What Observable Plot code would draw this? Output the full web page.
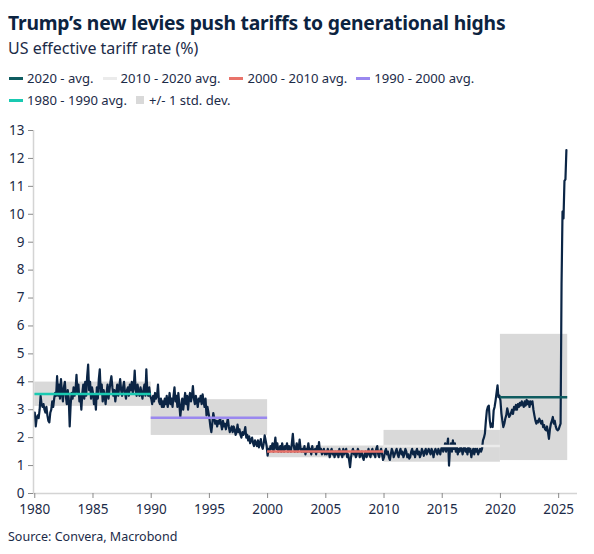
<!DOCTYPE html>
<html>
<head>
<meta charset="utf-8">
<script src="https://cdn.jsdelivr.net/npm/d3@7"></script>
<script src="https://cdn.jsdelivr.net/npm/@observablehq/plot@0.6"></script>
<style>
  html, body { margin: 0; padding: 0; background: #fff; }
  body { width: 594px; height: 554px; position: relative; font-family: "Noto Sans", "Open Sans", sans-serif; color: #1c2b48; overflow: hidden; }
  #title { position: absolute; left: 8px; top: 9px; font-size: 19.3px; font-weight: 700; color: #0c2340; white-space: nowrap; letter-spacing: -0.2px; }
  #subtitle { position: absolute; left: 8px; top: 37px; font-size: 16px; color: #1c2b48; white-space: nowrap; }
  .legrow { position: absolute; left: 9px; display: flex; align-items: center; font-size: 13.1px; white-space: nowrap; }
  .item { display: flex; align-items: center; margin-right: 9px; }
  .sw { display: inline-block; width: 14px; height: 3px; margin-right: 4px; }
  .sq { display: inline-block; width: 8px; height: 8px; margin-right: 5px; }
  #chart { position: absolute; left: 0; top: 115px; }
  #source { position: absolute; left: 8px; top: 528px; font-size: 12.5px; color: #1c2b48; }
</style>
</head>
<body>
<div id="title">Trump’s new levies push tariffs to generational highs</div>
<div id="subtitle">US effective tariff rate (%)</div>
<div class="legrow" id="leg1" style="top:69px"></div>
<div class="legrow" id="leg2" style="top:91px"></div>
<div id="chart"></div>
<div id="source">Source: Convera, Macrobond</div>
<script>
// ---- Data ----
const startYear = 1980;
// monthly US effective tariff rate (%), Jan 1980 onward
const rate = [
  2.9, 2.4, 2.7, 2.8, 2.7, 3.0, 3.5, 3.2, 3.1, 3.2, 3.0, 2.9,
  3.1, 2.8, 2.6, 2.55, 2.9, 3.0, 3.3, 3.1, 3.4, 3.6, 3.5, 4.2,
  3.5, 3.9, 3.4, 4.1, 3.6, 3.3, 3.8, 4.0, 3.5, 3.2, 3.7, 3.4,
  2.4, 3.2, 3.6, 3.4, 3.8, 3.5, 3.7, 4.25, 3.6, 3.9, 3.3, 3.5,
  3.0, 3.6, 3.9, 3.4, 4.0, 3.5, 4.2, 4.62, 3.7, 4.0, 3.4, 3.8,
  3.6, 3.2, 3.5, 3.0, 3.8, 3.4, 4.1, 4.45, 3.6, 3.9, 3.3, 3.7,
  3.5, 3.2, 3.6, 3.9, 3.4, 3.7, 4.0, 4.2, 3.8, 3.5, 3.7, 3.3,
  3.6, 3.9, 3.5, 3.8, 4.1, 3.7, 3.5, 3.8, 4.0, 3.6, 3.4, 3.7,
  3.8, 3.5, 3.9, 3.7, 4.0, 3.6, 3.8, 4.4, 3.7, 3.5, 3.9, 3.6,
  3.5, 3.8, 3.6, 3.4, 3.7, 3.9, 3.5, 4.45, 3.6, 3.5, 3.8, 3.5,
  3.4, 3.2, 3.5, 3.3, 3.6, 3.4, 3.5, 3.9, 3.3, 3.2, 3.4, 3.1,
  3.3, 3.1, 3.4, 3.2, 3.5, 3.1, 3.3, 3.6, 3.2, 3.4, 3.1, 3.5,
  3.8, 3.3, 3.5, 3.1, 3.6, 3.2, 2.75, 3.1, 3.4, 3.0, 3.3, 3.6,
  3.2, 3.5, 3.0, 3.4, 3.6, 3.3, 3.5, 3.85, 3.4, 3.2, 3.5, 3.3,
  3.1, 3.4, 3.3, 3.5, 3.2, 3.55, 3.3, 3.1, 3.4, 2.8, 3.1, 2.9,
  2.7, 2.4, 2.2, 2.5, 2.88, 2.7, 2.5, 2.6, 2.4, 2.6, 2.5, 2.7,
  2.5, 2.3, 2.6, 2.4, 2.5, 2.3, 2.5, 2.69, 2.4, 2.2, 2.3, 2.4,
  2.2, 2.4, 2.3, 2.1, 2.2, 2.47, 2.2, 2.3, 2.1, 2.0, 2.2, 2.1,
  2.2, 2.38, 2.0, 2.1, 1.9, 2.05, 1.8, 1.9, 2.0, 1.8, 1.7, 1.9,
  1.8, 1.7, 1.9, 1.65, 1.8, 1.95, 1.7, 1.6, 1.8, 2.08, 1.9, 1.7,
  1.36, 1.6, 1.5, 1.7, 1.6, 1.8, 1.5, 1.7, 2.0, 1.6, 1.8, 1.5,
  1.6, 1.7, 1.5, 1.8, 1.6, 1.5, 1.7, 1.6, 1.8, 1.5, 1.7, 1.6,
  1.5, 1.8, 2.14, 1.7, 1.5, 1.6, 1.8, 1.5, 1.6, 1.93, 1.6, 1.5,
  1.6, 1.5, 1.7, 1.4, 1.6, 1.5, 1.8, 1.5, 1.6, 1.4, 1.7, 1.5,
  1.5, 1.6, 1.4, 1.7, 1.5, 1.84, 1.5, 1.6, 1.4, 1.5, 1.6, 1.4,
  1.5, 1.4, 1.6, 1.5, 1.3, 1.5, 1.6, 1.4, 1.5, 1.3, 1.5, 1.4,
  1.5, 1.3, 1.6, 1.4, 1.5, 1.3, 1.6, 1.4, 1.5, 1.6, 1.3, 1.4,
  1.2, 0.94, 1.3, 1.5, 1.6, 1.4, 1.5, 1.3, 1.4, 1.6, 1.5, 1.3,
  1.4, 1.5, 1.3, 1.2, 1.4, 1.5, 1.3, 1.4, 1.6, 1.4, 1.3, 1.5,
  1.6, 1.4, 1.5, 1.3, 1.6, 1.7, 1.4, 1.3, 1.5, 1.6, 1.4, 1.2,
  1.3, 1.5, 1.6, 1.4, 1.5, 1.3, 1.2, 1.4, 1.6, 1.5, 1.3, 1.4,
  1.5, 1.6, 1.4, 1.3, 1.5, 1.6, 1.4, 1.5, 1.3, 1.4, 1.6, 1.5,
  1.3, 1.4, 1.25, 1.3, 1.5, 1.6, 1.4, 1.5, 1.3, 1.5, 1.6, 1.4,
  1.5, 1.3, 1.4, 1.6, 1.5, 1.35, 1.5, 1.6, 1.4, 1.5, 1.6, 1.5,
  1.4, 1.6, 1.5, 1.3, 1.5, 1.6, 1.5, 1.4, 1.6, 1.5, 1.4, 1.6,
  1.7, 1.5, 1.6, 1.8, 1.5, 1.7, 1.97, 1.0, 1.6, 1.8, 1.5, 1.9,
  1.6, 1.8, 1.5, 1.7, 1.4, 1.6, 1.5, 1.7, 1.6, 1.4, 1.6, 1.7,
  1.5, 1.6, 1.4, 1.7, 1.5, 1.6, 1.3, 1.5, 1.6, 1.4, 1.6, 1.5,
  1.6, 1.4, 1.5, 1.6, 1.5, 1.6, 1.9, 2.0, 2.15, 2.6, 2.97, 3.1,
  3.15, 2.62, 2.38, 2.5, 2.38, 2.97, 3.1, 3.33, 3.6, 3.87, 3.45, 3.5,
  3.33, 2.87, 2.6, 2.38, 2.5, 2.68, 2.8, 3.05, 2.9, 2.74, 2.8, 2.9,
  3.0, 2.85, 3.1, 3.0, 3.17, 3.0, 3.2, 3.1, 3.25, 3.15, 3.3, 3.2,
  3.1, 3.3, 3.15, 3.35, 3.2, 3.3, 3.1, 3.3, 3.2, 3.3, 3.0, 2.8,
  2.62, 2.5, 2.6, 2.55, 2.68, 2.6, 2.5, 2.6, 2.38, 2.45, 2.3, 2.26,
  2.4, 2.2, 1.96, 2.3, 2.5, 2.6, 2.74, 2.5, 2.6, 2.4, 2.3, 2.26,
  2.3, 2.4, 2.5, 7.5, 10.1, 9.85, 11.2, 11.25, 12.3
];

// period averages and +/- 1 std. dev. bands
const periodLabels = ["1980 - 1990 avg.", "1990 - 2000 avg.", "2000 - 2010 avg.", "2010 - 2020 avg.", "2020 - avg."];
const periodStart = [1980, 1990, 2000, 2010, 2020];
const periodEnd   = [1990, 2000, 2010, 2020, 2025.78];
const periodAvg   = [3.56, 2.71, 1.50, 1.70, 3.45];
const bandLow     = [3.12, 2.08, 1.28, 1.12, 1.18];
const bandHigh    = [3.99, 3.36, 1.70, 2.26, 5.70];

const xTicks = [1980, 1985, 1990, 1995, 2000, 2005, 2010, 2015, 2020, 2025];
const yTicks = [0, 1, 2, 3, 4, 5, 6, 7, 8, 9, 10, 11, 12, 13];

// ---- Styles ----
const periodColors = ["#19c9b1", "#9a88ef", "#e9736a", "#ebebeb", "#0f5c60"];
const bandColor = "#d9d9d9";
const lineColor = "#0b2545";
const textColor = "#1c2b48";

// ---- Build ----
const series = rate.map((v, i) => ({t: startYear + i / 12, v}));
const periods = periodLabels.map((label, i) => ({
  label, x1: periodStart[i], x2: periodEnd[i], avg: periodAvg[i], lo: bandLow[i], hi: bandHigh[i]
}));

const xMin = 1979.89, xMax = 2026.62;

const chart = Plot.plot({
  width: 594,
  height: 410,
  marginTop: 15,
  marginBottom: 32,
  marginLeft: 33,
  marginRight: 17,
  style: {fontFamily: "'Noto Sans', sans-serif", background: "transparent"},
  x: {domain: [xMin, xMax]},
  y: {domain: [0, 13]},
  color: {domain: periodLabels, range: periodColors},
  marks: [
    Plot.rect(periods, {x1: "x1", x2: "x2", y1: "lo", y2: "hi", fill: bandColor}),
    Plot.line(series, {x: "t", y: "v", stroke: lineColor, strokeWidth: 2.2, strokeLinejoin: "round"}),
    Plot.ruleY(periods, {y: "avg", x1: "x1", x2: "x2", stroke: "label", strokeWidth: 2.5}),
    Plot.ruleX([xMin], {stroke: "#d4d4d4", strokeWidth: 1.5}),
    Plot.ruleY([0], {stroke: "#d4d4d4", strokeWidth: 1.5}),
    Plot.axisX({ticks: xTicks, tickFormat: d => String(d), tickSize: 5, tickPadding: 6, stroke: "#8a8a8a", fill: textColor, fontSize: 13.5, label: null}),
    Plot.axisY({ticks: yTicks, tickSize: 5, tickPadding: 4, stroke: "#8a8a8a", fill: textColor, fontSize: 13.5, label: null})
  ]
});
document.getElementById("chart").appendChild(chart);

// ---- Legend (HTML) ----
function item(label, color, square) {
  const d = document.createElement("div");
  d.className = "item";
  const s = document.createElement("span");
  s.className = square ? "sq" : "sw";
  s.style.background = color;
  const t = document.createElement("span");
  t.textContent = label;
  d.appendChild(s); d.appendChild(t);
  return d;
}
const cIdx = l => periodLabels.indexOf(l);
const row1 = ["2020 - avg.", "2010 - 2020 avg.", "2000 - 2010 avg.", "1990 - 2000 avg."];
const leg1 = document.getElementById("leg1");
row1.forEach(l => leg1.appendChild(item(l, periodColors[cIdx(l)])));
const leg2 = document.getElementById("leg2");
leg2.appendChild(item("1980 - 1990 avg.", periodColors[cIdx("1980 - 1990 avg.")]));
leg2.appendChild(item("+/- 1 std. dev.", bandColor, true));
</script>
</body>
</html>
